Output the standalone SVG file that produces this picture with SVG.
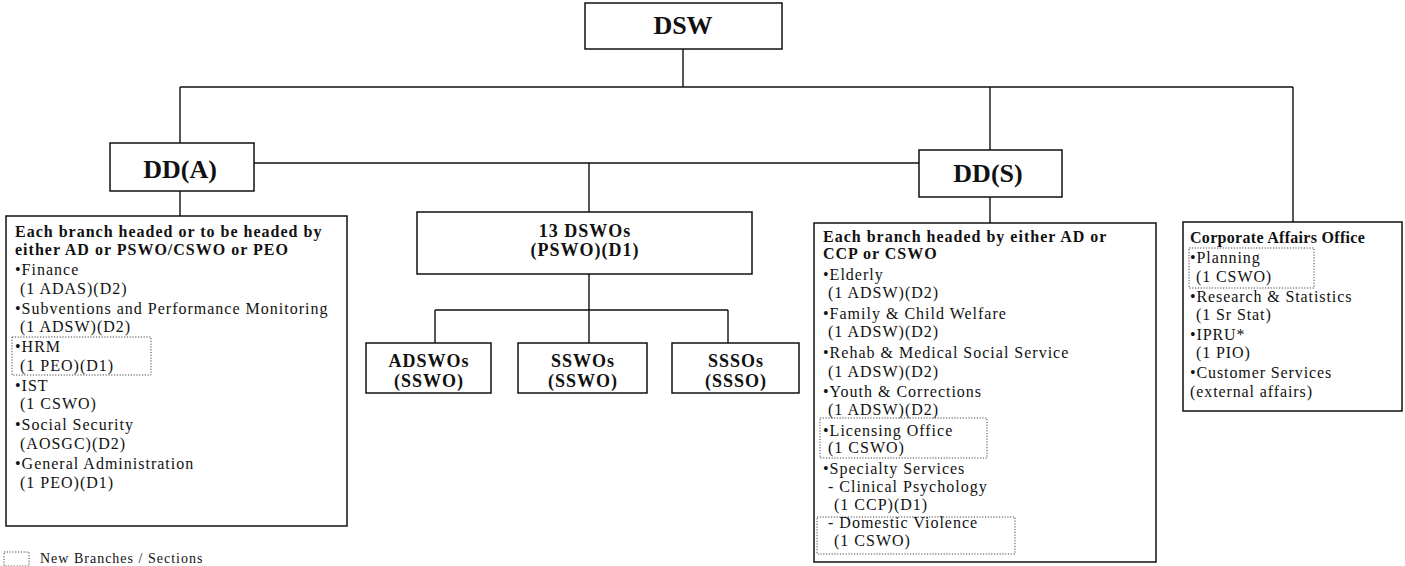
<svg xmlns="http://www.w3.org/2000/svg" width="1405" height="566" viewBox="0 0 1405 566">
<style>
.box{fill:#fff;stroke:#111;stroke-width:1.5}
.dot{fill:none;stroke:#444;stroke-width:1;stroke-dasharray:1.2 1.6}
.ln{fill:none;stroke:#111;stroke-width:1.4}
text{font-family:"Liberation Serif","Times New Roman",serif;fill:#111}
.big{font-size:26px;font-weight:bold;text-anchor:middle}
.mid{font-size:18px;font-weight:bold;text-anchor:middle;letter-spacing:1px}
.hd{font-size:16px;font-weight:bold;letter-spacing:1px}
.bd{font-size:16px;letter-spacing:1px}
.cao{font-size:16px;font-weight:bold;letter-spacing:0.3px}
.caob{font-size:16px;letter-spacing:0.9px}
</style>
<rect width="1405" height="566" fill="#fff"/>
<g id="connectors">
<path class="ln" d="M683 49V87M180 87H1293M180 87V143M990 87V150M1293 87V222"/>
<path class="ln" d="M254 163H919M589 163V212M180 191V216M990 197V223"/>
<path class="ln" d="M589 274V343M435 310H728M435 310V343M728 310V343"/>
</g>
<g id="dsw"><rect class="box" x="585" y="3" width="197" height="46"/><text class="big" x="683" y="34">DSW</text></g>
<g id="dda"><rect class="box" x="110" y="143" width="144" height="48"/><text class="big" x="180" y="178">DD(A)</text></g>
<g id="dds"><rect class="box" x="919" y="150" width="143" height="47"/><text class="big" x="988" y="182">DD(S)</text></g>
<g id="dswos"><rect class="box" x="417" y="212" width="335" height="62"/><text class="mid" x="585" y="237">13 DSWOs</text><text class="mid" x="585" y="256">(PSWO)(D1)</text></g>
<g id="adswos"><rect class="box" x="366" y="343" width="125" height="50"/><text class="mid" x="429" y="367">ADSWOs</text><text class="mid" x="429" y="387">(SSWO)</text></g>
<g id="sswos"><rect class="box" x="518" y="343" width="129" height="50"/><text class="mid" x="583" y="367">SSWOs</text><text class="mid" x="583" y="387">(SSWO)</text></g>
<g id="sssos"><rect class="box" x="672" y="343" width="127" height="50"/><text class="mid" x="736" y="367">SSSOs</text><text class="mid" x="736" y="387">(SSSO)</text></g>
<g id="admin-branches">
<rect class="box" x="6" y="216" width="341" height="310"/>
<rect class="dot" x="12" y="337" width="139" height="38"/>
<text class="hd" x="15" y="237">Each branch headed or to be headed by</text>
<text class="hd" x="15" y="255">either AD or PSWO/CSWO or PEO</text>
<text class="bd" x="15" y="275">•Finance</text>
<text class="bd" x="20" y="294">(1 ADAS)(D2)</text>
<text class="bd" x="15" y="314">•Subventions and Performance Monitoring</text>
<text class="bd" x="20" y="332">(1 ADSW)(D2)</text>
<text class="bd" x="15" y="352">•HRM</text>
<text class="bd" x="20" y="371">(1 PEO)(D1)</text>
<text class="bd" x="15" y="391">•IST</text>
<text class="bd" x="20" y="409">(1 CSWO)</text>
<text class="bd" x="15" y="430">•Social Security</text>
<text class="bd" x="20" y="449">(AOSGC)(D2)</text>
<text class="bd" x="15" y="469">•General Administration</text>
<text class="bd" x="20" y="488">(1 PEO)(D1)</text>
</g>
<g id="service-branches">
<rect class="box" x="814" y="223" width="342" height="339"/>
<rect class="dot" x="820" y="418" width="167" height="40"/>
<rect class="dot" x="817" y="517" width="198" height="37"/>
<text class="hd" x="823" y="242">Each branch headed by either AD or</text>
<text class="hd" x="823" y="259">CCP or CSWO</text>
<text class="bd" x="823" y="280">•Elderly</text>
<text class="bd" x="828" y="298">(1 ADSW)(D2)</text>
<text class="bd" x="823" y="319">•Family &amp; Child Welfare</text>
<text class="bd" x="828" y="337">(1 ADSW)(D2)</text>
<text class="bd" x="823" y="358">•Rehab &amp; Medical Social Service</text>
<text class="bd" x="828" y="377">(1 ADSW)(D2)</text>
<text class="bd" x="823" y="397">•Youth &amp; Corrections</text>
<text class="bd" x="828" y="415">(1 ADSW)(D2)</text>
<text class="bd" x="823" y="436">•Licensing Office</text>
<text class="bd" x="828" y="453">(1 CSWO)</text>
<text class="bd" x="823" y="474">•Specialty Services</text>
<text class="bd" x="828" y="492">- Clinical Psychology</text>
<text class="bd" x="834" y="510">(1 CCP)(D1)</text>
<text class="bd" x="828" y="528">- Domestic Violence</text>
<text class="bd" x="834" y="546">(1 CSWO)</text>
</g>
<g id="corporate-affairs">
<rect class="box" x="1183" y="222" width="219" height="189"/>
<rect class="dot" x="1189" y="248" width="125" height="40"/>
<text class="cao" x="1190" y="243">Corporate Affairs Office</text>
<text class="caob" x="1190" y="263">•Planning</text>
<text class="caob" x="1196" y="282">(1 CSWO)</text>
<text class="caob" x="1190" y="302">•Research &amp; Statistics</text>
<text class="caob" x="1196" y="320">(1 Sr Stat)</text>
<text class="caob" x="1190" y="340">•IPRU*</text>
<text class="caob" x="1196" y="358">(1 PIO)</text>
<text class="caob" x="1190" y="378">•Customer Services</text>
<text class="caob" x="1190" y="397">(external affairs)</text>
</g>
<g id="legend">
<rect class="dot" x="4" y="552" width="25" height="14"/>
<text class="bd" x="40" y="563" style="font-size:14px">New Branches / Sections</text>
</g>
</svg>
